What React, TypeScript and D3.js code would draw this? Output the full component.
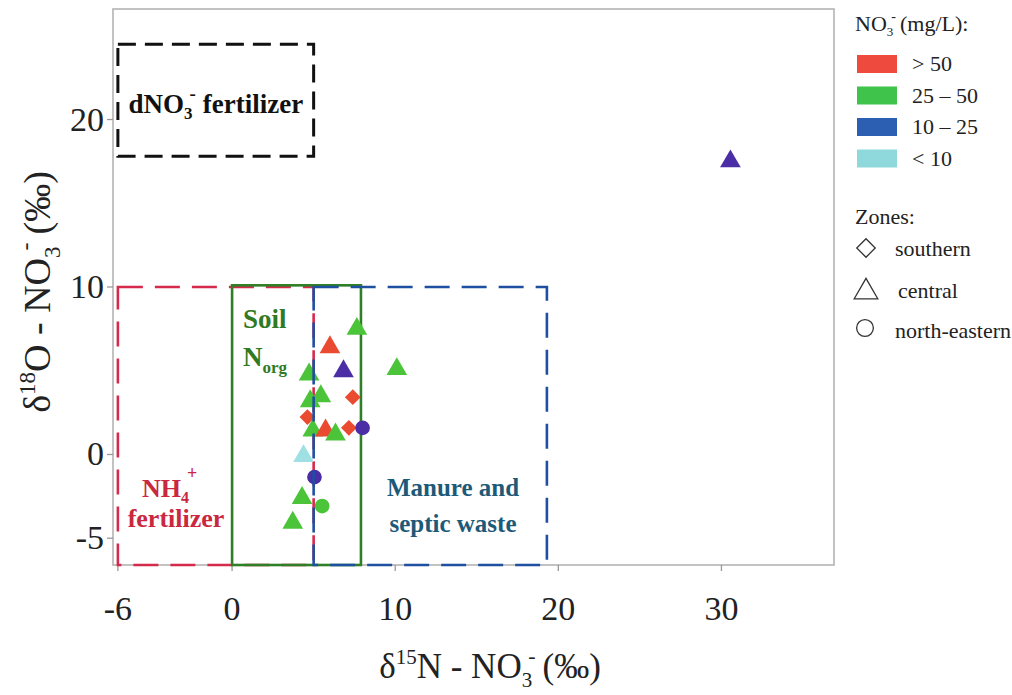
import React from "react";
import * as d3 from "d3";

// ---- data ----
const d15N = [7.65, 6.0, 10.1, 6.83, 4.72, 5.44, 4.79, 7.4, 4.62, 4.95, 5.73, 6.34, 7.16, 8.0, 4.38, 5.05, 4.29, 5.52, 3.72, 30.55];
const d18O = [7.5, 6.4, 5.1, 4.97, 4.78, 3.48, 3.18, 3.42, 2.23, 1.43, 1.43, 1.19, 1.59, 1.59, -0.1, -1.35, -2.6, -3.08, -4.08, 17.5];
const no3Class = ["25-50", ">50", "25-50", "10-25", "25-50", "25-50", "25-50", ">50", ">50", "25-50", ">50", "25-50", ">50", "10-25", "<10", "10-25", "25-50", "25-50", "25-50", "10-25"];
const zones = ["central", "central", "central", "central", "central", "central", "central", "southern", "southern", "central", "central", "central", "southern", "north-eastern", "central", "north-eastern", "central", "north-eastern", "central", "central"];

const xTickValues = [-7, 0, 10, 20, 30];
const xTickLabels = ["-6", "0", "10", "20", "30"];
const yTickValues = [-5, 0, 10, 20];
const yTickLabels = ["-5", "0", "10", "20"];

const classKeys = [">50", "25-50", "10-25", "<10"];
const classLabels = ["> 50", "25 \u2013 50", "10 \u2013 25", "< 10"];
const classPointColors = ["#ea4a30", "#4cc43a", "#4b2ea6", "#9ee0e4"];
const classSwatchColors = ["#ee4b3e", "#3fc34a", "#2c5eb2", "#8fd9dd"];
const zoneKeys = ["southern", "central", "north-eastern"];

// source boxes: [x0, x1, y0, y1]
const boxDNO3 = [-7, 5, 17.8, 24.5];
const boxNH4 = [-7, 5, -6.6, 10];
const boxSoil = [0, 7.9, -6.6, 10.1];
const boxManure = [5, 19.3, -6.6, 10];

const W = 1012, H = 695;
const M = { left: 113, right: 834, top: 9, bottom: 565 };
const FONT = "'Liberation Serif', 'Times New Roman', 'DejaVu Serif', serif";

export default function App() {
  const x = d3.scaleLinear().domain([-7.3, 36.9]).range([M.left, M.right]);
  const y = d3.scaleLinear().domain([-6.6, 26.6]).range([M.bottom, M.top]);
  const color = d3.scaleOrdinal<string, string>().domain(classKeys).range(classPointColors);

  const tri = d3.symbol().type(d3.symbolTriangle).size(185)() as string;
  const sq = d3.symbol().type(d3.symbolSquare).size(125)() as string;
  const circ = d3.symbol().type(d3.symbolCircle).size(170)() as string;

  const rect = (b: number[]) => ({ x: x(b[0]), y: y(b[3]), w: x(b[1]) - x(b[0]), h: y(b[2]) - y(b[3]) });
  const bD = rect(boxDNO3), bN = rect(boxNH4), bS = rect(boxSoil), bM = rect(boxManure);

  const pts = d15N.map((v, i) => ({ x: v, y: d18O[i], c: no3Class[i], z: zones[i] }));

  const shape = (z: string, cx: number, cy: number, fill: string, key: string) => {
    if (z === "southern") return <path key={key} d={sq} transform={`translate(${cx},${cy}) rotate(45)`} fill={fill} />;
    if (z === "central") return <path key={key} d={tri} transform={`translate(${cx},${cy})`} fill={fill} />;
    return <path key={key} d={circ} transform={`translate(${cx},${cy})`} fill={fill} />;
  };

  return (
    <svg width={W} height={H} style={{ position: "absolute", left: 0, top: 0, background: "#fff", fontFamily: FONT }}>
      <rect x={0} y={0} width={W} height={H} fill="#fff" />
      {/* panel border */}
      <rect x={M.left} y={M.top} width={M.right - M.left} height={M.bottom - M.top} fill="none" stroke="#b3b3b3" strokeWidth={1.6} />
      {/* x ticks */}
      {xTickValues.map((v, i) => (
        <g key={"xt" + i}>
          <line x1={x(v)} x2={x(v)} y1={M.bottom} y2={M.bottom + 6} stroke="#999" strokeWidth={1.3} />
          <text x={x(v)} y={620} fontSize={34} textAnchor="middle" fill="#222">{xTickLabels[i]}</text>
        </g>
      ))}
      {/* y ticks */}
      {yTickValues.map((v, i) => (
        <g key={"yt" + i}>
          <line x1={M.left - 6} x2={M.left} y1={y(v)} y2={y(v)} stroke="#999" strokeWidth={1.3} />
          <text x={104} y={y(v) + 11} fontSize={34} textAnchor="end" fill="#222">{yTickLabels[i]}</text>
        </g>
      ))}

      {/* boxes */}
      <rect x={bD.x} y={bD.y} width={bD.w} height={bD.h} fill="none" stroke="#111" strokeWidth={3} strokeDasharray="18 9" />
      <rect x={bN.x} y={bN.y} width={bN.w} height={bN.h} fill="none" stroke="#d62a4c" strokeWidth={2.6} strokeDasharray="25 12" />
      <rect x={bS.x} y={bS.y} width={bS.w} height={bS.h} fill="none" stroke="#2f7f26" strokeWidth={2.6} />

      {/* points */}
      {pts.map((p, i) => shape(p.z, x(p.x), y(p.y), color(p.c), "p" + i))}

      <rect x={bM.x} y={bM.y} width={bM.w} height={bM.h} fill="none" stroke="#1f4fa0" strokeWidth={2.6} strokeDasharray="25 12" />

      {/* box labels */}
      <text x={(bD.x + bD.x + bD.w) / 2} y={113} fontSize={27} fontWeight="bold" textAnchor="middle" fill="#111">
        dNO<tspan fontSize={17} dy={6}>3</tspan><tspan fontSize={19} dx={-3} dy={-19}>-</tspan><tspan dy={13} dx={7}>fertilizer</tspan>
      </text>
      <text x={243} y={328} fontSize={27} fontWeight="bold" fill="#2f7a22">Soil</text>
      <text x={243} y={366} fontSize={27} fontWeight="bold" fill="#2f7a22">
        N<tspan fontSize={17} dy={7}>org</tspan>
      </text>
      <text x={142} y={497} fontSize={26} fontWeight="bold" fill="#c9283f">
        NH<tspan fontSize={16} dy={6}>4</tspan><tspan fontSize={18} dx={-2} dy={-24}>+</tspan>
      </text>
      <text x={176} y={527} fontSize={26} fontWeight="bold" fill="#c9283f" textAnchor="middle">fertilizer</text>
      <text x={453} y={496} fontSize={25} fontWeight="bold" fill="#1d5a78" textAnchor="middle">Manure and</text>
      <text x={453} y={532} fontSize={25} fontWeight="bold" fill="#1d5a78" textAnchor="middle">septic waste</text>

      {/* axis titles */}
      <text x={490} y={678} fontSize={35} textAnchor="middle" fill="#222">
        δ<tspan fontSize={21} dy={-14}>15</tspan><tspan dy={14}>N - NO</tspan><tspan fontSize={21} dy={9}>3</tspan><tspan fontSize={22} dx={-4} dy={-24}>-</tspan><tspan dy={15} dx={7}>(‰)</tspan>
      </text>
      <text transform={`translate(50,292) rotate(-90)`} fontSize={38} textAnchor="middle" fill="#222">
        δ<tspan fontSize={23} dy={-15}>18</tspan><tspan dy={15}>O - NO</tspan><tspan fontSize={23} dy={10}>3</tspan><tspan fontSize={24} dx={-4} dy={-27}>-</tspan><tspan dy={17} dx={8}>(‰)</tspan>
      </text>

      {/* legend */}
      <text x={855} y={31} fontSize={22} fill="#222">
        NO<tspan fontSize={13} dy={5}>3</tspan><tspan fontSize={14} dx={-2} dy={-15}>-</tspan><tspan dy={10} dx={4}>(mg/L):</tspan>
      </text>
      {classKeys.map((k, i) => (
        <g key={"lg" + k}>
          <rect x={857} y={55 + i * 31.5} width={40} height={18} fill={classSwatchColors[i]} />
          <text x={912} y={71 + i * 31.5} fontSize={22} fill="#222">{classLabels[i]}</text>
        </g>
      ))}
      <text x={855} y={224} fontSize={22} fill="#222">Zones:</text>
      {zoneKeys.map((z, i) => {
        const cy = 248 + i * 42;
        return (
          <g key={"lz" + z}>
            {z === "southern" && <path d={d3.symbol().type(d3.symbolSquare).size(170)() as string} transform={`translate(866,${cy}) rotate(45)`} fill="none" stroke="#333" strokeWidth={1.3} />}
            {z === "central" && <path d={d3.symbol().type(d3.symbolTriangle).size(240)() as string} transform={`translate(866,${cy + 2})`} fill="none" stroke="#333" strokeWidth={1.3} />}
            {z === "north-eastern" && <path d={d3.symbol().type(d3.symbolCircle).size(220)() as string} transform={`translate(865,${cy - 4})`} fill="none" stroke="#333" strokeWidth={1.3} />}
            <text x={z === "central" ? 898 : 895} y={cy + 8 - (z === "north-eastern" ? 2 : 0)} fontSize={22} fill="#222">{z}</text>
          </g>
        );
      })}
    </svg>
  );
}
